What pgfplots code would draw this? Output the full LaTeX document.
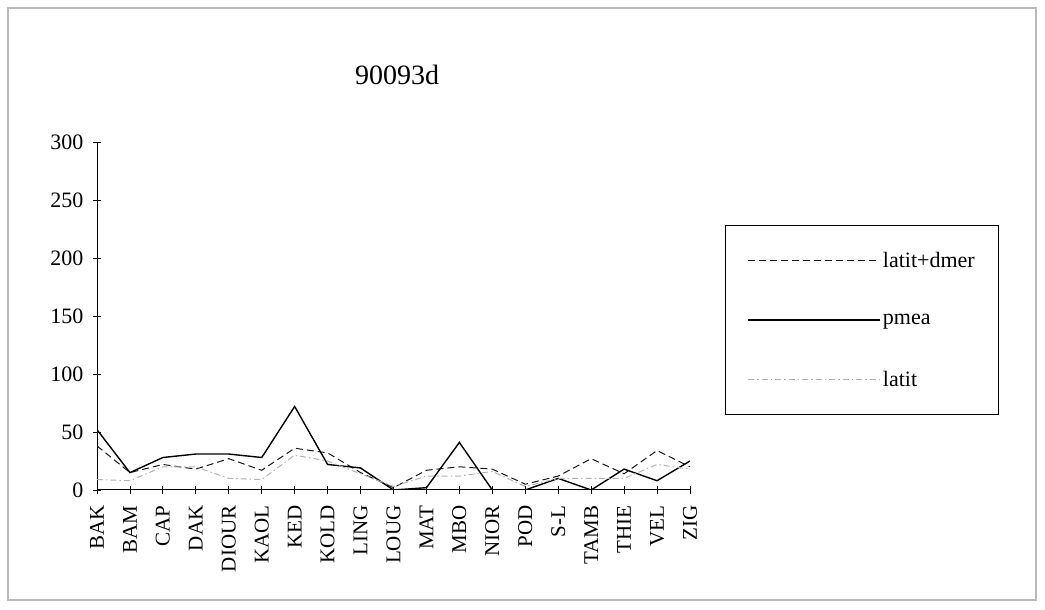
\documentclass[border=0pt]{standalone}
\usepackage{fontspec}
\setmainfont{Liberation Serif}
\usepackage{pgfplots}
\pgfplotsset{compat=1.18}
\usepackage{pgfplotstable}
\pgfplotstableread{
idx name dmer pmea latit
0 BAK 38 52 9
1 BAM 15 15 8
2 CAP 22 28 20
3 DAK 18 31 20
4 DIOUR 27 31 10
5 KAOL 17 28 9
6 KED 36 72 30
7 KOLD 32 22 25
8 LING 15 19 14
9 LOUG 2 0 3
10 MAT 17 2 12
11 MBO 20 41 12
12 NIOR 18 0 16
13 POD 5 0 3
14 S-L 12 10 10
15 TAMB 27 0 10
16 THIE 14 18 10
17 VEL 34 8 22
18 ZIG 20 25 18
}\data
\begin{document}
\begin{tikzpicture}[x=1pt,y=1pt]
\useasboundingbox (0,0) rectangle (1045,610);
\fill[white] (0,0) rectangle (1045,610);
\draw[gray!55, line width=1.2pt] (8,10) rectangle (1036,602);
\node[font=\fontsize{28}{30}\selectfont] at (397,535) {90093d};
\begin{axis}[
  at={(97pt,120pt)}, anchor=south west,
  width=593pt, height=348pt, scale only axis,
  xmin=0, xmax=18, ymin=0, ymax=300,
  axis x line=bottom, axis y line=left,
  axis line style={-, line width=1pt, black},
  xtick={0,...,18},
  xticklabels from table={\data}{name},
  ytick={0,50,...,300},
  tick align=center, major tick length=8pt,
  tick style={black, line width=0.8pt},
  yticklabel style={font=\fontsize{22}{22}\selectfont, /pgf/number format/assume math mode=true},
  yticklabel shift=6pt,
  xticklabel style={rotate=90, anchor=east, font=\fontsize{21}{21}\selectfont},
  xticklabel shift=8pt,
  legend style={at={(1.059,0.7615)}, anchor=north west, draw=black, line width=1pt,
    font=\fontsize{22}{22}\selectfont, inner xsep=22pt, inner ysep=25pt,
    row sep=41pt, legend cell align=left},
  legend image code/.code={\draw[#1] (0pt,0pt) -- (132pt,0pt);},
  every even column/.append style={column sep=4pt},
]
\addplot[gray!20!black, line width=1pt, dash pattern=on 7pt off 4pt] table[x=idx, y=dmer] {\data};
\addlegendentry{latit+dmer}
\addplot[black, line width=1.4pt] table[x=idx, y=pmea] {\data};
\addlegendentry{pmea}
\addplot[gray!60, line width=1pt, dash pattern=on 6pt off 3pt on 1.5pt off 3pt] table[x=idx, y=latit] {\data};
\addlegendentry{latit}
\end{axis}
\end{tikzpicture}
\end{document}
